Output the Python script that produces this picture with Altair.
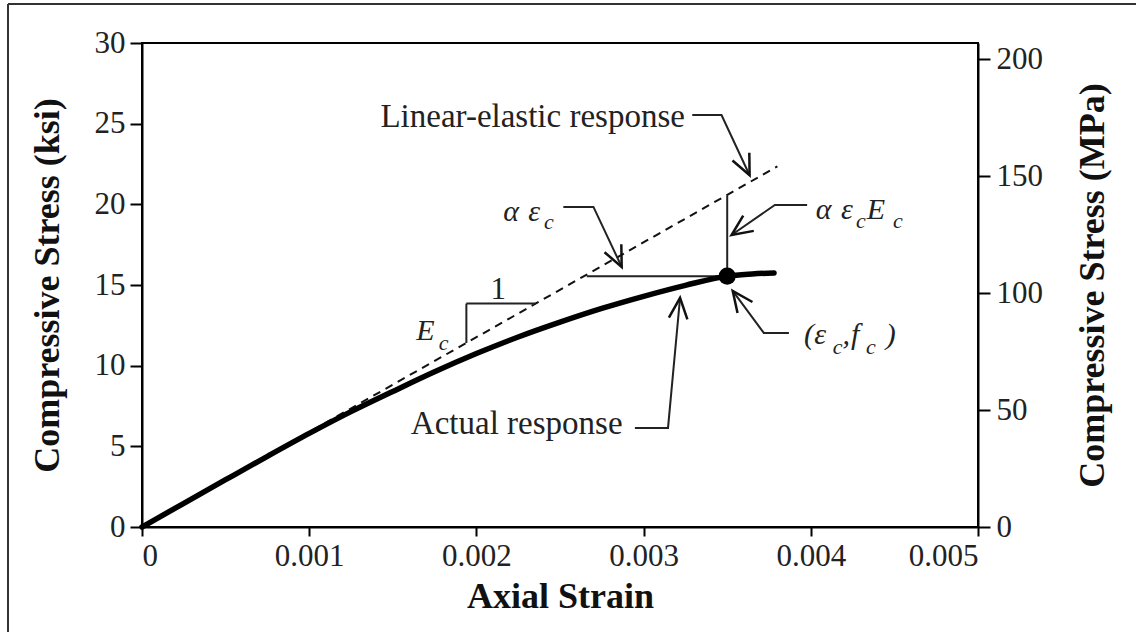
import math
import altair as alt
import pandas as pd

# ---------------- data ----------------
# actual response curve: axial strain vs compressive stress (ksi)
curve_strain = [0, 0.00025, 0.0005, 0.00075, 0.001, 0.00125, 0.0015, 0.00175, 0.002,
                0.00225, 0.0025, 0.00275, 0.003, 0.00325, 0.0035, 0.00365, 0.00378]
curve_stress = [0, 1.47, 2.93, 4.38, 5.8, 7.15, 8.4, 9.62, 10.75,
                11.78, 12.7, 13.55, 14.3, 14.98, 15.55, 15.68, 15.75]

# linear-elastic response (dashed)
lin_strain = [0, 0.0038]
lin_stress = [0, 22.35]

# marked point (eps_c, f_c)
pt_strain = [0.0035]
pt_stress = [15.55]

# construction segments: x, x2, y, y2
seg_x = [0.0035, 0.00266, 0.00194, 0.00194]
seg_x2 = [0.0035, 0.0035, 0.00194, 0.002355]
seg_y = [15.55, 15.55, 11.4, 13.85]
seg_y2 = [20.55, 15.55, 13.85, 13.85]

# leader lines (3 points each: text end, corner, arrow tip)
lead_id = ["lin"] * 3 + ["aec"] * 3 + ["aecE"] * 3 + ["act"] * 3 + ["pt"] * 3
lead_x = [0.003291, 0.003466, 0.003634,
          0.00252, 0.0027, 0.002869,
          0.003978, 0.003785, 0.003526,
          0.002948, 0.003146, 0.003218,
          0.003869, 0.003719, 0.003533]
lead_y = [25.54, 25.54, 21.8,
          19.84, 19.84, 16.12,
          19.96, 19.96, 18.10,
          6.14, 6.14, 14.20,
          12.03, 12.03, 14.63]

# plain annotation texts (right-aligned at x)
txt = ["Linear-elastic response", "Actual response"]
txt_x = [0.003247, 0.002874]
txt_y = [25.42, 6.4]

# math glyphs (italic), main and subscript
math_txt = ["α", "ε", "α", "ε", "E", "E", "(", "ε", ",", "f", ")"]
math_x = [0.002160, 0.002310, 0.004030, 0.004180, 0.004335, 0.001640,
          0.003960, 0.004020, 0.004190, 0.004240, 0.004448]
math_y = [19.5, 19.5, 19.65, 19.65, 19.65, 12.15,
          11.9, 11.9, 11.9, 11.9, 11.9]
sub_txt = ["c", "c", "c", "c", "c", "c"]
sub_x = [0.002405, 0.004270, 0.004492, 0.001775, 0.004132, 0.004330]
sub_y = [18.9, 18.95, 18.95, 11.4, 11.15, 11.15]

one_txt = ["1"]
one_x = [0.002131]
one_y = [14.66]

mpa_ticks = [0, 50, 100, 150, 200]

# ---------------- layout ----------------
W, H = 836, 484
XMAX, YMAX = 0.005, 30
FONT = "Liberation Serif"

xs = alt.Scale(domain=[0, XMAX], nice=False, zero=True)
ys = alt.Scale(domain=[0, YMAX], nice=False, zero=True)

curve_df = pd.DataFrame({"strain": curve_strain, "stress": curve_stress})
lin_df = pd.DataFrame({"strain": lin_strain, "stress": lin_stress})
pt_df = pd.DataFrame({"strain": pt_strain, "stress": pt_stress})
seg_df = pd.DataFrame({"x": seg_x, "x2": seg_x2, "y": seg_y, "y2": seg_y2})
lead_df = pd.DataFrame({"id": lead_id, "x": lead_x, "y": lead_y,
                        "o": list(range(len(lead_id)))})

# arrow heads at the last point of each leader, direction from previous point
heads = []
for k in range(0, len(lead_id), 3):
    x0, y0 = lead_x[k + 1], lead_y[k + 1]
    x1, y1 = lead_x[k + 2], lead_y[k + 2]
    dx = (x1 - x0) / XMAX * W
    dy = -(y1 - y0) / YMAX * H
    ang = math.degrees(math.atan2(dx, -dy)) % 360
    heads.append({"x": x1, "y": y1, "ang": ang})
head_df = pd.DataFrame(heads)

x_axis = alt.Axis(values=[0, 0.001, 0.002, 0.003, 0.004, 0.005], format=".3~f",
                  title="Axial Strain", tickSize=9, labelPadding=5, titlePadding=8)
y_axis = alt.Axis(values=[0, 5, 10, 15, 20, 25, 30], title="Compressive Stress (ksi)",
                  tickSize=12, labelPadding=5, titlePadding=28)

lin = alt.Chart(lin_df).mark_line(color="#111", strokeWidth=2, strokeDash=[8, 6]).encode(
    x=alt.X("strain:Q", scale=xs, axis=x_axis),
    y=alt.Y("stress:Q", scale=ys, axis=y_axis))

curve = alt.Chart(curve_df).mark_line(color="black", strokeWidth=5.5, interpolate="monotone",
                                      strokeCap="round").encode(
    x=alt.X("strain:Q", scale=xs), y=alt.Y("stress:Q", scale=ys))

segs = alt.Chart(seg_df).mark_rule(color="#222", strokeWidth=2).encode(
    x=alt.X("x:Q", scale=xs), x2="x2:Q", y=alt.Y("y:Q", scale=ys), y2="y2:Q")

point = alt.Chart(pt_df).mark_point(filled=True, color="black", size=290, opacity=1).encode(
    x=alt.X("strain:Q", scale=xs), y=alt.Y("stress:Q", scale=ys))

leads = alt.Chart(lead_df).mark_line(color="#222", strokeWidth=2).encode(
    x=alt.X("x:Q", scale=xs), y=alt.Y("y:Q", scale=ys), detail="id:N", order="o:Q")

arrows = alt.Chart(head_df).mark_point(
    shape="M -0.45 1 L 0 0 L 0.45 1", filled=False, color="#111", strokeWidth=2.5,
    size=1700, opacity=1).encode(
    x=alt.X("x:Q", scale=xs), y=alt.Y("y:Q", scale=ys),
    angle=alt.Angle("ang:Q", scale=None))

texts = alt.Chart(pd.DataFrame({"t": txt, "x": txt_x, "y": txt_y})).mark_text(
    font=FONT, fontSize=33, align="right", baseline="middle", color="#222").encode(
    x=alt.X("x:Q", scale=xs), y=alt.Y("y:Q", scale=ys), text="t:N")

maths = alt.Chart(pd.DataFrame({"t": math_txt, "x": math_x, "y": math_y})).mark_text(
    font=FONT, fontSize=30, fontStyle="italic", align="left", baseline="middle",
    color="#222").encode(x=alt.X("x:Q", scale=xs), y=alt.Y("y:Q", scale=ys), text="t:N")

subs = alt.Chart(pd.DataFrame({"t": sub_txt, "x": sub_x, "y": sub_y})).mark_text(
    font=FONT, fontSize=22, fontStyle="italic", align="left", baseline="middle",
    color="#222").encode(x=alt.X("x:Q", scale=xs), y=alt.Y("y:Q", scale=ys), text="t:N")

one = alt.Chart(pd.DataFrame({"t": one_txt, "x": one_x, "y": one_y})).mark_text(
    font=FONT, fontSize=31, align="center", baseline="middle", color="#222").encode(
    x=alt.X("x:Q", scale=xs), y=alt.Y("y:Q", scale=ys), text="t:N")

border = alt.Chart(pd.DataFrame({"a": [0]})).mark_rule(color="#333", strokeWidth=2).encode(
    x=alt.value(-134), y=alt.value(-39), y2=alt.value(700))
border_top = alt.Chart(pd.DataFrame({"a": [0]})).mark_rule(color="#333", strokeWidth=2).encode(
    x=alt.value(-134), x2=alt.value(1200), y=alt.value(-39))

main = alt.layer(lin, segs, leads, arrows, curve, point, texts, maths, subs, one,
                 border, border_top)

right = alt.Chart(pd.DataFrame({"mpa": mpa_ticks, "strain": [0] * 5})).mark_point(
    opacity=0).encode(
    x=alt.X("strain:Q", scale=xs),
    y=alt.Y("mpa:Q", scale=alt.Scale(domain=[0, 30 * 6.894757], nice=False),
            axis=alt.Axis(orient="right", values=mpa_ticks,
                          title="Compressive Stress (MPa)", tickSize=12,
                          labelPadding=6, titlePadding=33, titleAngle=270,
                          titleBaseline="top")))

chart = alt.layer(main, right).resolve_scale(y="independent").properties(
    width=W, height=H, autosize="none", background="white",
    padding={"left": 142, "top": 43, "right": 158, "bottom": 105},
).configure_view(stroke="black", strokeWidth=2).configure_axis(
    domainColor="black", domainWidth=2, tickColor="black", tickWidth=2, grid=False,
    labelFont=FONT, labelFontSize=31, labelColor="#222",
    titleFont=FONT, titleFontSize=36, titleFontWeight="bold", titleColor="#111",
)

chart.save("out.html", embed_options={"renderer": "svg", "actions": False})
